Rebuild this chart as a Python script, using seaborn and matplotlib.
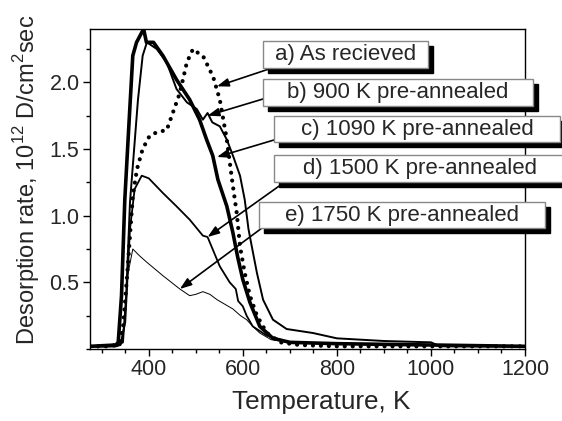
import matplotlib
matplotlib.use("Agg")
import matplotlib.pyplot as plt
import seaborn as sns
from matplotlib.patches import Rectangle
from matplotlib.ticker import MultipleLocator

# Thermal desorption spectra (T in K, rate in 1e12 D/cm2 s)
t_a = [275, 320, 335, 345, 355, 366, 375, 387, 402, 420, 438, 451, 466, 481, 494, 505,
       515, 537, 551, 566, 577, 587, 594, 604, 615, 630, 651, 680, 720, 800, 1000, 1200]
rate_a = [0.02, 0.02, 0.04, 0.15, 0.6, 1.15, 1.35, 1.5, 1.6, 1.63, 1.64, 1.77, 1.92, 2.15, 2.25, 2.22,
          2.2, 2.04, 1.87, 1.57, 1.27, 1.02, 0.77, 0.57, 0.4, 0.25, 0.12, 0.05, 0.03, 0.02, 0.02, 0.02]

t_b = [275, 330, 345, 352, 360, 377, 387, 396, 417, 438, 459, 481, 502, 515, 525, 535, 551, 566, 579,
       594, 604, 612, 619, 630, 643, 664, 693, 749, 800, 900, 1000, 1020, 1200]
rate_b = [0.02, 0.02, 0.05, 0.4, 1.1, 1.87, 2.2, 2.3, 2.25, 2.15, 1.95, 1.85, 1.8, 1.72, 1.77, 1.7, 1.67,
          1.57, 1.45, 1.3, 1.12, 0.9, 0.77, 0.57, 0.37, 0.22, 0.15, 0.12, 0.08, 0.06, 0.05, 0.02, 0.02]

t_c = [275, 330, 335, 342, 349, 358, 366, 374, 389, 395, 410, 430, 459, 487, 508, 523, 536,
       547, 566, 579, 589, 600, 615, 636, 664, 700, 800, 1000, 1200]
rate_c = [0.02, 0.03, 0.05, 0.4, 1.12, 1.7, 2.2, 2.3, 2.4, 2.3, 2.3, 2.2, 2.02, 1.87, 1.72, 1.57, 1.45,
          1.27, 1.07, 0.87, 0.69, 0.52, 0.35, 0.17, 0.08, 0.05, 0.04, 0.03, 0.02]

t_d = [275, 330, 340, 350, 360, 370, 385, 400, 430, 459, 487, 515, 525, 551, 572, 585, 590, 600,
       608, 621, 651, 700, 800, 1000, 1200]
rate_d = [0.02, 0.02, 0.03, 0.2, 0.9, 1.2, 1.3, 1.28, 1.17, 1.07, 0.97, 0.85, 0.84, 0.62, 0.5, 0.45, 0.36,
          0.32, 0.25, 0.17, 0.1, 0.05, 0.04, 0.03, 0.02]

t_e = [275, 330, 340, 348, 355, 366, 380, 396, 430, 466, 487, 500, 515, 530, 545, 579, 595,
       608, 621, 636, 660, 700, 800, 1000, 1200]
rate_e = [0.02, 0.02, 0.03, 0.2, 0.55, 0.75, 0.7, 0.65, 0.55, 0.45, 0.4, 0.41, 0.43, 0.41, 0.37, 0.3, 0.25,
          0.22, 0.17, 0.12, 0.07, 0.05, 0.04, 0.03, 0.02]

labels = ["a) As recieved", "b) 900 K pre-annealed", "c) 1090 K pre-annealed",
          "d) 1500 K pre-annealed", "e) 1750 K pre-annealed"]
# arrow tips on the curves (T, rate)
tips_t = [545, 525, 545, 525, 466]
tips_rate = [1.97, 1.75, 1.44, 0.84, 0.45]

sns.set_style("ticks")
plt.rcParams["font.family"] = ["Liberation Sans", "DejaVu Sans"]
plt.rcParams["mathtext.fontset"] = "custom"
plt.rcParams["mathtext.rm"] = "Liberation Sans"

W, H = 562, 421
fig = plt.figure(figsize=(W / 100, H / 100), dpi=100)
ax = fig.add_axes([90 / W, 1 - 349 / H, 435 / W, 320 / H])

sns.lineplot(x=t_a, y=rate_a, ax=ax, color="k", lw=3.0, linestyle=(0, (0.01, 1.9)),
             dash_capstyle="round")
sns.lineplot(x=t_b, y=rate_b, ax=ax, color="k", lw=1.4)
sns.lineplot(x=t_c, y=rate_c, ax=ax, color="k", lw=2.6)
sns.lineplot(x=t_d, y=rate_d, ax=ax, color="k", lw=1.3)
sns.lineplot(x=t_e, y=rate_e, ax=ax, color="k", lw=0.7)

ax.set_xlim(275, 1200)
ax.set_ylim(0.0, 2.4)
ax.set_xticks([400, 600, 800, 1000, 1200])
ax.xaxis.set_minor_locator(MultipleLocator(50))
ax.set_yticks([0.5, 1.0, 1.5, 2.0])
ax.yaxis.set_minor_locator(MultipleLocator(0.25))
ax.tick_params(which="major", length=5, width=1, labelsize=15.5, color="k", pad=2.5)
ax.tick_params(which="minor", length=2.8, width=1, color="k")
for s in ax.spines.values():
    s.set_visible(True)
    s.set_color("k")
    s.set_linewidth(1)
ax.set_xlabel("Temperature, K", fontsize=18.8)
ax.xaxis.set_label_coords((321 - 90) / 435, -41 / 320)
ax.set_ylabel("Desorption rate, 10$^{12}$ D/cm$^{2}$sec", fontsize=17)
ax.yaxis.set_label_coords(-48 / 435, (349 - 180) / 320)

# label boxes in pixel positions: x0, y_top, x1, y_bottom
boxes = [(263, 41, 428, 68), (263, 79, 533, 106), (274, 116, 560, 142),
         (274, 155, 566, 182), (259, 202, 545, 228)]
starts = [(278, 66), (263, 99), (274, 140), (282, 184), (262, 228)]

for lab, (x0, y0, x1, y1), (sx, sy), tt, tr in zip(labels, boxes, starts, tips_t, tips_rate):
    ax.annotate("", xy=(tt, tr), xycoords="data",
                xytext=(sx / W, 1 - sy / H), textcoords="figure fraction",
                arrowprops=dict(arrowstyle="-|>,head_length=0.7,head_width=0.25",
                                color="k", lw=1.2, shrinkA=0, shrinkB=0),
                annotation_clip=False, zorder=4)
    ax.add_patch(Rectangle((x0 / W + 5 / W, 1 - (y1 + 5) / H), (x1 - x0) / W, (y1 - y0) / H,
                           transform=fig.transFigure, facecolor="k", edgecolor="k",
                           clip_on=False, zorder=5))
    ax.add_patch(Rectangle((x0 / W, 1 - y1 / H), (x1 - x0) / W, (y1 - y0) / H,
                           transform=fig.transFigure, facecolor="white", edgecolor="#888888",
                           lw=1, clip_on=False, zorder=6))
    ax.text((x0 + x1) / 2 / W, 1 - (y0 + y1) / 2 / H, lab, transform=fig.transFigure,
            ha="center", va="center", fontsize=16, zorder=7)

fig.savefig("out.png", dpi=100)
